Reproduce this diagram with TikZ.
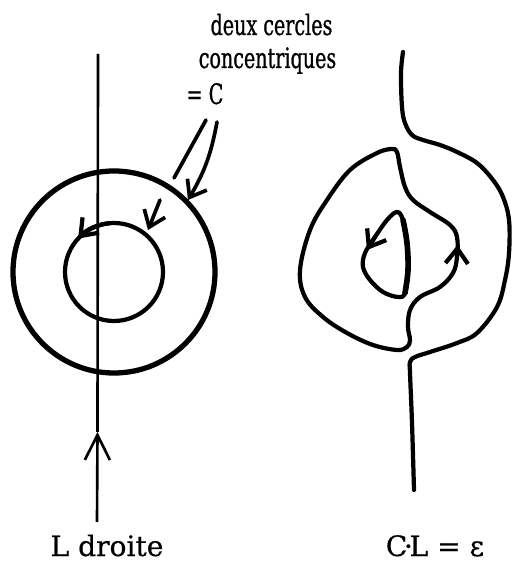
\documentclass[tikz,border=0pt]{standalone}
\usepackage{fontspec}
\setmainfont{DejaVu Serif}[FakeBold=0.6]
\newfontfamily\etroite{DejaVu Serif}[FakeStretch=0.68, FakeBold=0.8]
\usetikzlibrary{arrows.meta, calc}

\begin{document}
\begin{tikzpicture}[
  trait/.style={line width=2.4pt, line cap=round, line join=round},
  fleche/.style={-{Straight Barb[length=3mm,width=4.5mm]}},
  haut/.style={font=\etroite\fontsize{16}{19}\selectfont, anchor=base, inner sep=0pt},
  bas/.style={font=\fontsize{16}{19}\selectfont, anchor=base, inner sep=0pt}]
\useasboundingbox (0,0) rectangle (10.26,11.32);

% textes
\node[haut] (deux) at (5.43,10.62) {deux cercles};
\node[haut] (conc) at (5.35,9.96) {concentriques};
\node[haut] (egalC) at (4.10,9.24) {= C};
\node[bas] (Ldroite) at (2.14,0.20) {L droite};
\node[bas] (CL) at (8.70,0.20) {C\kern-.12em·\kern-.12em L = ε};

% la droite L
\coordinate (Lhaut) at (1.96,10.24);
\coordinate (Lfl) at (1.95,2.68);
\coordinate (Lbas) at (1.94,0.88);
\draw[line width=1.5pt, -{Straight Barb[length=5mm,width=5mm]}] (Lbas) -- (Lfl);
\draw[line width=1.5pt] (Lfl) -- (Lhaut);

% les deux cercles C
\coordinate (O) at (2.28,5.88);
\draw[trait, line width=3pt] (O) circle[radius=2.02];
\draw[trait] (O) circle[radius=0.98];
\draw[trait, fleche] (O) ++(95:0.98) arc[start angle=95, end angle=137, radius=0.98];

% fleches vers C
\coordinate (pi1) at (4.12,8.92);
\coordinate (pi2) at (3.48,7.76);
\coordinate (pi3) at (3.20,7.32);
\coordinate (pi4) at (2.96,6.72);
\coordinate (pe1) at (4.34,8.88);
\coordinate (pe2) at (3.76,7.32);
\draw[trait, line width=2.1pt] (pi1) -- (pi2);
\draw[trait, line width=2.1pt, fleche] (pi3) -- (pi4);
\draw[trait, line width=2.1pt, fleche] (pe1) to[bend left=10] (pe2);

% CL = epsilon
\draw[trait] plot[smooth, tension=0.6] coordinates {
  (8.06,10.28) (8.02,9.86) (8.04,9.18) (8.10,8.86) (8.24,8.62) (8.46,8.52)
  (8.80,8.42) (9.14,8.28) (9.54,8.06) (9.86,7.72) (10.06,7.38) (10.18,6.92)
  (10.18,6.26) (10.10,5.72) (9.94,5.18) (9.54,4.66) (9.14,4.46) (8.60,4.28)
  (8.30,4.18) (8.20,4.08) (8.20,3.86) (8.24,2.86) (8.28,1.52)};
\draw[trait] plot[smooth cycle, tension=0.6] coordinates {
  (7.84,8.34) (7.94,8.28) (8.00,7.98) (8.10,7.58) (8.26,7.32) (8.60,7.08)
  (9.00,6.82) (9.14,6.58) (9.14,6.18) (9.06,5.86) (8.80,5.58) (8.40,5.38)
  (8.20,5.12) (8.16,4.78) (8.20,4.52) (8.14,4.38) (7.94,4.32) (7.46,4.42)
  (6.94,4.66) (6.46,4.98) (6.10,5.38) (6.00,5.92) (6.20,6.72) (6.54,7.32)
  (7.00,7.92) (7.54,8.26)};
\draw[trait] plot[smooth cycle, tension=0.6] coordinates {
  (7.94,7.08) (7.74,6.92) (7.50,6.58) (7.30,6.26) (7.26,5.98) (7.40,5.72)
  (7.66,5.48) (7.96,5.38) (8.10,5.46) (8.16,5.92) (8.14,6.46) (8.06,6.92)};
\draw[trait, line width=3.2pt] plot[smooth, tension=0.6] coordinates {
  (8.10,5.46) (8.16,5.92) (8.14,6.46) (8.06,6.92)};
\draw[trait, fleche] (7.50,6.58) -- (7.34,6.32);
\draw[trait, fleche] (9.14,6.18) -- (9.15,6.42);
\end{tikzpicture}
\end{document}
